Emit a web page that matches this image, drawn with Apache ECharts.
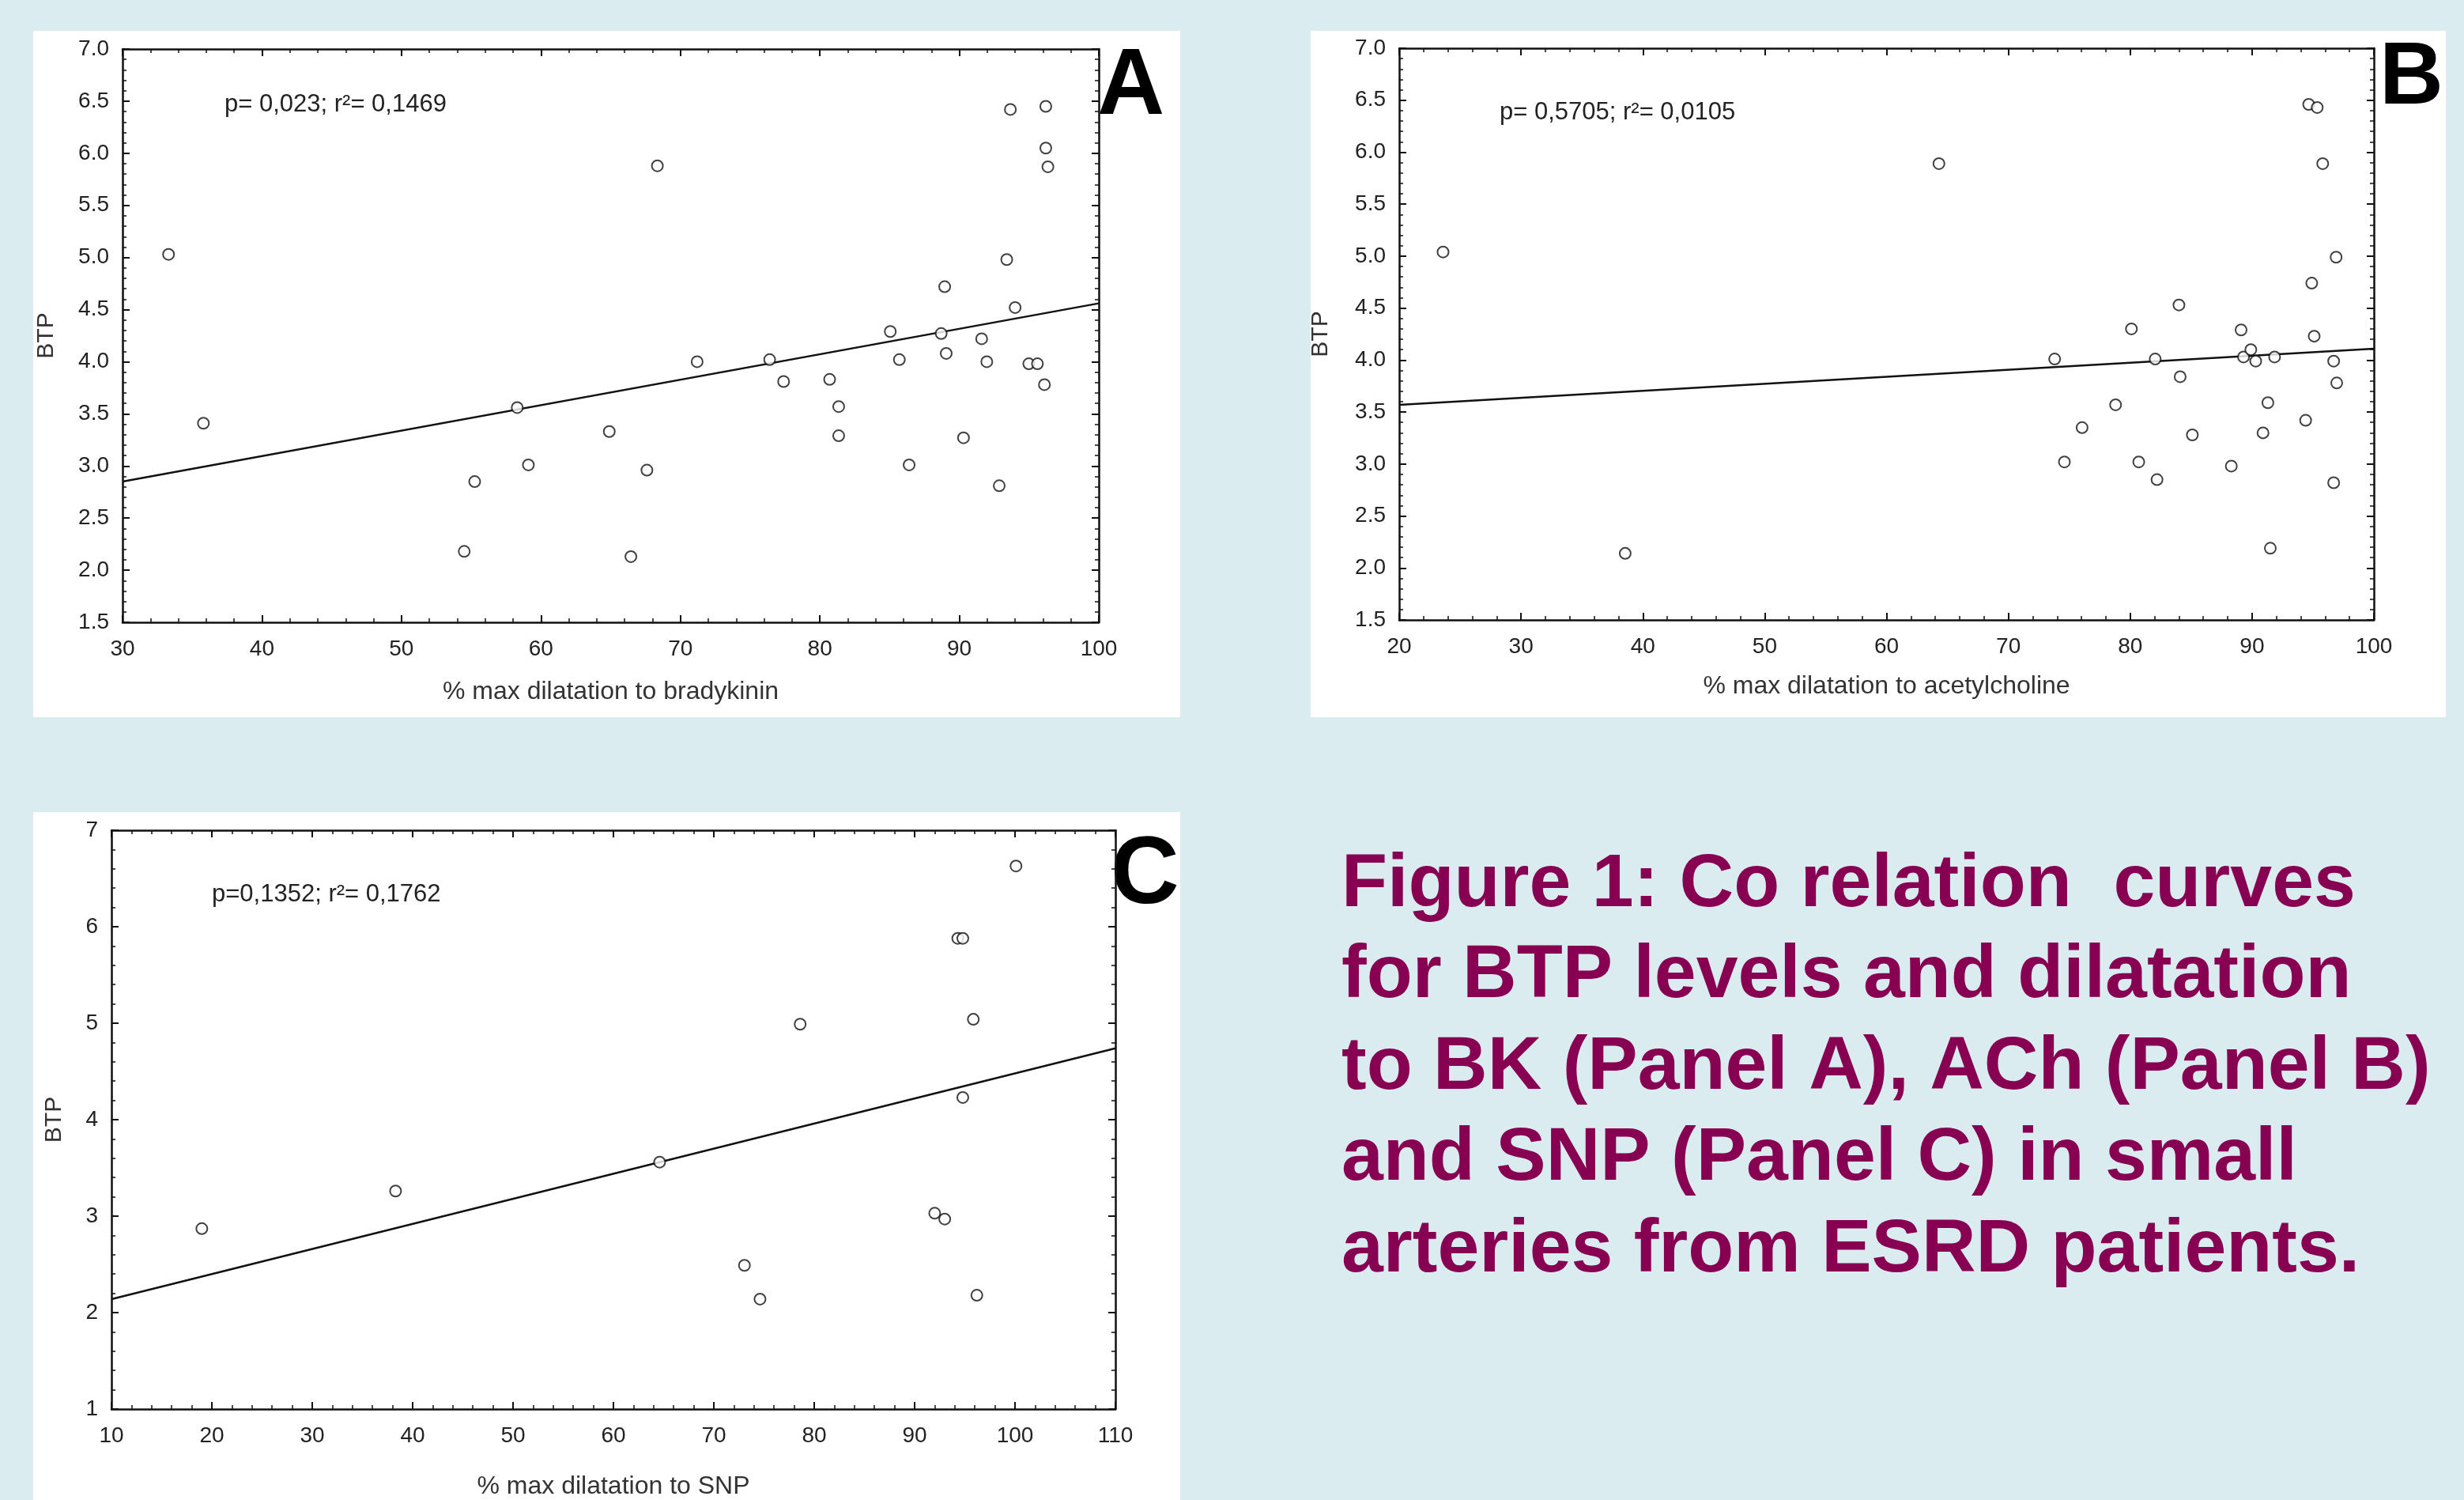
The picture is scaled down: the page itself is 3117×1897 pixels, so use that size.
<!DOCTYPE html>
<html>
<head>
<meta charset="utf-8">
<script src="https://cdn.jsdelivr.net/npm/echarts@6/dist/echarts.min.js"></script>
<style>
  html, body { margin: 0; padding: 0; background: #daecef; }
  #main { width: 3117px; height: 1897px; }
</style>
</head>
<body>
<div id="main"></div>
<script>
let myChart = echarts.init(document.getElementById('main'));

// panel A - bradykinin
let aX = [33.3, 35.8, 68.35, 58.3, 55.25, 59.1, 54.5, 64.9, 67.6, 66.45, 71.2, 76.4, 77.4, 80.7, 81.35, 81.35, 85.05, 85.7,
    86.4, 88.7, 88.95, 89.06, 90.3, 91.6, 91.97, 92.86, 93.4, 93.66, 94.0, 94.98, 95.6, 96.1, 96.2, 96.2, 96.35];
let aY = [5.03, 3.41, 5.88, 3.56, 2.85, 3.01, 2.18, 3.33, 2.96, 2.13, 4.0, 4.02, 3.81, 3.83, 3.57, 3.29, 4.29, 4.02,
    3.01, 4.27, 4.72, 4.08, 3.27, 4.22, 4.0, 2.81, 4.98, 6.42, 4.52, 3.98, 3.98, 3.78, 6.45, 6.05, 5.87];
let aFit = [[30, 2.85], [100, 4.56]];

// panel B - acetylcholine
let bX = [23.6, 38.55, 64.3, 73.8, 74.6, 76.05, 78.8, 80.1, 80.7, 82.05, 82.2, 84.0, 84.1, 85.1, 88.3, 89.1, 89.3,
    89.9, 90.3, 90.9, 91.3, 91.5, 91.85, 94.4, 94.65, 94.9, 95.1, 95.35, 95.8, 96.7, 96.7, 96.9, 96.95];
let bY = [5.04, 2.14, 5.89, 4.01, 3.02, 3.35, 3.57, 4.3, 3.02, 4.01, 2.85, 4.53, 3.84, 3.28, 2.98, 4.29, 4.03,
    4.1, 3.99, 3.3, 3.59, 2.19, 4.03, 3.42, 6.46, 4.74, 4.23, 6.43, 5.89, 3.99, 2.82, 4.99, 3.78];
let bFit = [[20, 3.57], [100, 4.11]];

// panel C - SNP
let cX = [19.0, 38.3, 64.6, 73.05, 74.6, 78.6, 92.0, 93.0, 94.3, 94.8, 94.8, 95.85, 96.2, 100.1];
let cY = [2.87, 3.26, 3.56, 2.49, 2.14, 4.99, 3.03, 2.97, 5.88, 5.88, 4.23, 5.04, 2.18, 6.63];
let cFit = [[10, 2.14], [110, 4.74]];

let stats = ['p= 0,023; r\u00b2= 0,1469', 'p= 0,5705; r\u00b2= 0,0105', 'p=0,1352; r\u00b2= 0,1762'];
let xNames = ['% max dilatation to bradykinin', '% max dilatation to acetylcholine', '% max dilatation to SNP'];
let letters = ['A', 'B', 'C'];
let captionLines = [
    'Figure 1: Co relation  curves',
    'for BTP levels and dilatation',
    'to BK (Panel A), ACh (Panel B)',
    'and SNP (Panel C) in small',
    'arteries from ESRD patients.'
];

let font = 'Liberation Sans, Arial, sans-serif';

let panels = [
    {x: aX, y: aY, fit: aFit, xmin: 30, xmax: 100, ymin: 1.5, ymax: 7, yint: 0.5, dec: 1,
        grid: {left: 155, top: 62, width: 1235, height: 725}, yGap: 81, xGap: 72},
    {x: bX, y: bY, fit: bFit, xmin: 20, xmax: 100, ymin: 1.5, ymax: 7, yint: 0.5, dec: 1,
        grid: {left: 1770, top: 61, width: 1233, height: 723}, yGap: 84, xGap: 68},
    {x: cX, y: cY, fit: cFit, xmin: 10, xmax: 110, ymin: 1, ymax: 7, yint: 1, dec: 0,
        grid: {left: 141, top: 1050, width: 1270, height: 732}, yGap: 57, xGap: 82}
];

function zip(xs, ys) {
    return xs.map((v, i) => [v, ys[i]]);
}

let grids = [], xAxes = [], yAxes = [], series = [];

panels.forEach((p, i) => {
    grids.push(p.grid);
    let tick = {show: true, inside: true, length: 9, lineStyle: {color: '#111', width: 2}};
    let minor = {show: true, splitNumber: 5, length: 5, lineStyle: {color: '#111', width: 1.5}};
    let line = {show: true, lineStyle: {color: '#111', width: 2.5}};
    let label = {fontFamily: font, fontSize: 28, color: '#222'};
    xAxes.push({
        type: 'value', gridIndex: i, min: p.xmin, max: p.xmax, interval: 10,
        axisLine: line, axisTick: tick, minorTick: minor, splitLine: {show: false},
        axisLabel: Object.assign({margin: 20}, label),
        name: xNames[i], nameLocation: 'middle', nameGap: p.xGap,
        nameTextStyle: {fontFamily: font, fontSize: 32, color: '#333'}
    });
    xAxes.push({
        type: 'value', gridIndex: i, position: 'top', min: p.xmin, max: p.xmax, interval: 10,
        axisLine: line, axisTick: tick, minorTick: minor, splitLine: {show: false},
        axisLabel: {show: false}
    });
    yAxes.push({
        type: 'value', gridIndex: i, min: p.ymin, max: p.ymax, interval: p.yint,
        axisLine: line, axisTick: tick, minorTick: minor, splitLine: {show: false},
        axisLabel: Object.assign({margin: 17, formatter: v => v.toFixed(p.dec)}, label),
        name: 'BTP', nameLocation: 'middle', nameGap: p.yGap,
        nameTextStyle: {fontFamily: font, fontSize: 30, color: '#333'}
    });
    yAxes.push({
        type: 'value', gridIndex: i, position: 'right', min: p.ymin, max: p.ymax, interval: p.yint,
        axisLine: line, axisTick: tick, minorTick: minor, splitLine: {show: false},
        axisLabel: {show: false}
    });
    series.push({
        type: 'line', xAxisIndex: 2 * i, yAxisIndex: 2 * i,
        data: p.fit, symbol: 'none', silent: true, z: 2,
        lineStyle: {color: '#111', width: 2.5}
    });
    series.push({
        type: 'scatter', xAxisIndex: 2 * i, yAxisIndex: 2 * i,
        data: zip(p.x, p.y), symbol: 'emptyCircle', symbolSize: 14, z: 3,
        itemStyle: {color: '#111', borderWidth: 2.2}
    });
});

let graphics = [
    // white panel backgrounds
    {type: 'rect', shape: {x: 42, y: 39, width: 1451, height: 868}, style: {fill: '#fff'}, z: -10},
    {type: 'rect', shape: {x: 1658, y: 39, width: 1436, height: 868}, style: {fill: '#fff'}, z: -10},
    {type: 'rect', shape: {x: 42, y: 1027, width: 1451, height: 880}, style: {fill: '#fff'}, z: -10},
    // stats text
    {type: 'text', x: 284, y: 132, style: {text: stats[0], font: '31px ' + font, fill: '#222', verticalAlign: 'middle'}},
    {type: 'text', x: 1897, y: 142, style: {text: stats[1], font: '31px ' + font, fill: '#222', verticalAlign: 'middle'}},
    {type: 'text', x: 268, y: 1131, style: {text: stats[2], font: '31px ' + font, fill: '#222', verticalAlign: 'middle'}},
    // panel letters
    {type: 'text', x: 1388, y: 111, style: {text: letters[0], font: 'bold 118px ' + font, fill: '#000', verticalAlign: 'middle'}},
    {type: 'text', x: 3010, y: 100, style: {text: letters[1], font: 'bold 112px ' + font, fill: '#000', verticalAlign: 'middle'}},
    {type: 'text', x: 1405, y: 1109, style: {text: letters[2], font: 'bold 120px ' + font, fill: '#000', verticalAlign: 'middle'}},
    // caption
    {type: 'text', x: 1697, y: 1062, style: {
        text: captionLines.join('\n'), font: 'bold 95px ' + font, fill: '#870052',
        lineHeight: 115.5, verticalAlign: 'top'
    }}
];

let option = {
    backgroundColor: '#daecef',
    animation: false,
    grid: grids,
    xAxis: xAxes,
    yAxis: yAxes,
    series: series,
    graphic: graphics
};

myChart.setOption(option);
</script>
</body>
</html>
